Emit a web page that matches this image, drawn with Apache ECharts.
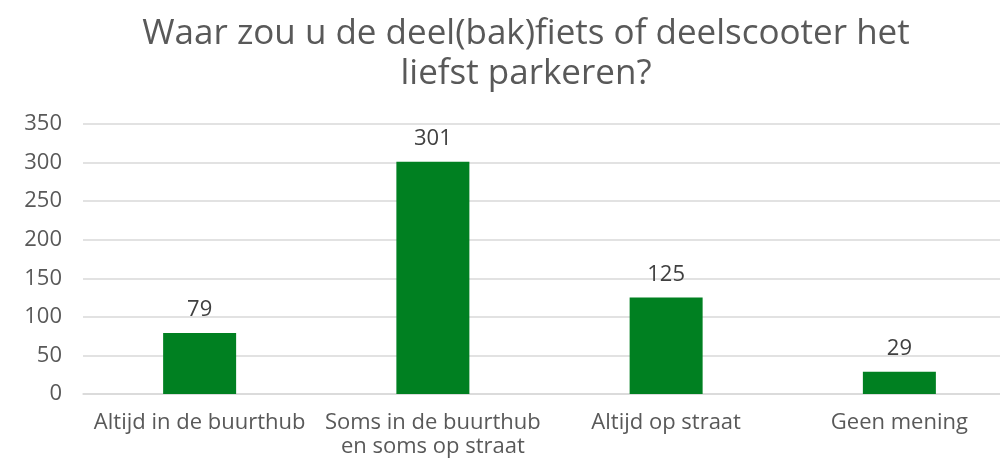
<!DOCTYPE html>
<html>
<head>
<meta charset="utf-8">
<script src="https://cdn.jsdelivr.net/npm/echarts@6/dist/echarts.min.js"></script>
<style>
	html, body { margin: 0; padding: 0; background: #ffffff; }
	#chart { width: 1000px; height: 459px; }
</style>
</head>
<body>
<div id="chart"></div>
<script>
	const categories = ['Altijd in de buurthub', 'Soms in de buurthub\nen soms op straat', 'Altijd op straat', 'Geen mening'];
	const counts = [79, 301, 125, 29];
	const yTicks = [0, 350, 50]; // min, max, interval

	let chart = echarts.init(document.getElementById('chart'));
	let option = {
		backgroundColor: '#ffffff',
		animation: false,
		textStyle: { fontFamily: 'Open Sans' },
		title: {
			text: 'Waar zou u de deel(bak)fiets of deelscooter het\nliefst parkeren?',
			left: 521,
			top: 9,
			textAlign: 'center',
			textStyle: {
				color: '#595959',
				fontWeight: 'normal',
				fontSize: 35,
				lineHeight: 40,
				fontFamily: 'Open Sans'
			}
		},
		grid: {
			left: 83,
			width: 933,
			top: 124,
			bottom: 65,
			outerBoundsMode: 'none' // let the plot run past the right edge like the original
		},
		xAxis: {
			type: 'category',
			data: categories,
			axisLine: { show: true, lineStyle: { color: '#d9d9d9', width: 1.5 } },
			axisTick: { show: false },
			axisLabel: {
				color: '#595959',
				fontSize: 22,
				lineHeight: 24,
				margin: 17,
				interval: 0
			}
		},
		yAxis: {
			type: 'value',
			min: yTicks[0],
			max: yTicks[1],
			interval: yTicks[2],
			axisLine: { show: false },
			axisTick: { show: false },
			splitLine: { lineStyle: { color: '#d9d9d9', width: 1.5 } },
			axisLabel: {
				color: '#595959',
				fontSize: 22,
				margin: 21
			}
		},
		series: [{
			type: 'bar',
			data: counts,
			barWidth: 73,
			itemStyle: { color: '#008021' },
			label: {
				show: true,
				position: 'top',
				distance: 12,
				color: '#404040',
				fontSize: 22
			}
		}]
	};
	chart.setOption(option);
</script>
</body>
</html>
